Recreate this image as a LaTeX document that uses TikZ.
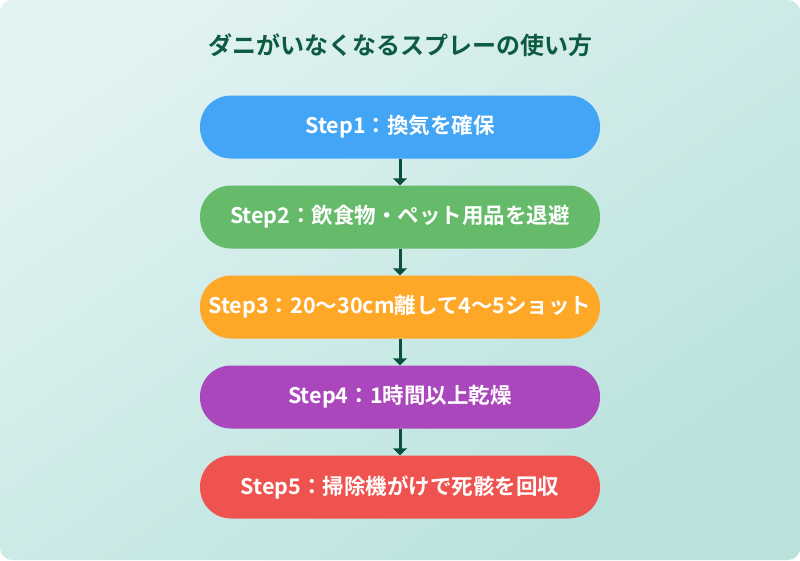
\documentclass[tikz,border=0pt]{standalone}
\usepackage{fontspec}
\setmainfont{Noto Sans CJK JP}[BoldFont={Noto Sans CJK JP Bold}]
\usetikzlibrary{arrows.meta}

\definecolor{bgA}{HTML}{E0F2F1}
\definecolor{bgB}{HTML}{B9E2DD}
\definecolor{titlec}{HTML}{0D5B40}
\definecolor{arrowc}{HTML}{0B4F3F}
\definecolor{stepA}{HTML}{42A5F5}
\definecolor{stepB}{HTML}{66BB6A}
\definecolor{stepC}{HTML}{FFA726}
\definecolor{stepD}{HTML}{AB47BC}
\definecolor{stepE}{HTML}{EF5350}

\begin{document}
\begin{tikzpicture}[x=1pt, y=-1pt,
  stepbox/.style={rectangle, rounded corners=31pt, minimum width=400pt, minimum height=63pt,
    inner sep=0pt, text=white, font=\bfseries\fontsize{21.5}{25}\selectfont},
  flow/.style={-{Triangle[width=14pt,length=7pt]}, line width=3pt, arrowc}]
\useasboundingbox (0,0) rectangle (800,560);
\shade[rounded corners=12pt, left color=bgA, right color=bgB, shading angle=35] (0,0) rectangle (800,560);
\node[text=titlec, font=\bfseries\fontsize{24}{28}\selectfont] (title) at (400,45) {ダニがいなくなるスプレーの使い方};
\node[stepbox, fill=stepA] (s1) at (400,127) {Step1：換気を確保};
\node[stepbox, fill=stepB] (s2) at (400,217) {Step2：飲食物・ペット用品を退避};
\node[stepbox, fill=stepC] (s3) at (400,307) {Step3：20～30cm離して4～5ショット};
\node[stepbox, fill=stepD] (s4) at (400,397) {Step4：1時間以上乾燥};
\node[stepbox, fill=stepE] (s5) at (400,487) {Step5：掃除機がけで死骸を回収};
\draw[flow] (s1) -- (s2);
\draw[flow] (s2) -- (s3);
\draw[flow] (s3) -- (s4);
\draw[flow] (s4) -- (s5);
\end{tikzpicture}
\end{document}
